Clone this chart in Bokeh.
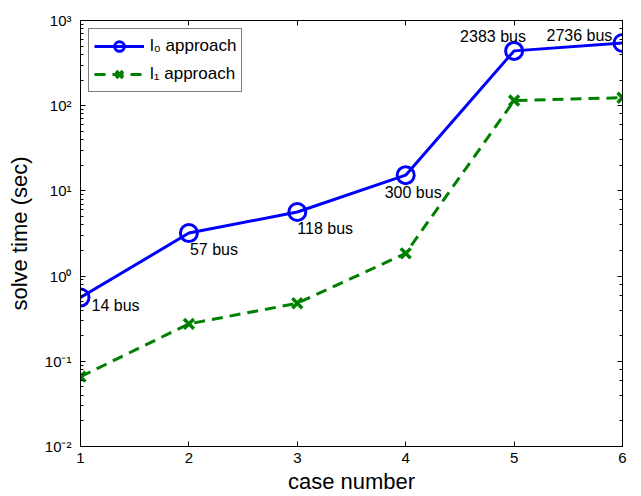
from bokeh.plotting import figure
from bokeh.models import (Range1d, LinearAxis, LogAxis, CustomJSTickFormatter,
                          FixedTicker, ColumnDataSource, Legend)
from bokeh.core.properties import value
from bokeh.embed import file_html
from bokeh.resources import INLINE

# ---- data ----
cases = [1, 2, 3, 4, 5, 6]
l0_time = [0.56, 3.2, 5.65, 15.3, 440, 545]
l1_time = [0.066, 0.275, 0.48, 1.85, 115, 124]
bus_labels = ["14 bus", "57 bus", "118 bus", "300 bus", "2383 bus", "2736 bus"]
x_ticks = [1, 2, 3, 4, 5, 6]
series_names = ["l\u2080 approach", "l\u2081 approach"]

# label offsets (pixels, style only)
lab_dx = [11, 1, 0, -21, -54, -76]
lab_dy = [8, 16, 16, 17, -14, -7]

FONT = "Liberation Sans"

p = figure(width=641, height=496, output_backend="svg", toolbar_location=None,
           y_axis_type="log", x_range=Range1d(1, 6), y_range=Range1d(0.01, 1000),
           min_border_left=80, min_border_right=19, min_border_top=20,
           min_border_bottom=48)
p.grid.visible = False
p.outline_line_color = "black"
p.outline_line_width = 1
p.background_fill_color = "white"
p.border_fill_color = "white"

sup = ("const m={'-':'\u207b','0':'\u2070','1':'\u00b9','2':'\u00b2','3':'\u00b3',"
       "'4':'\u2074','5':'\u2075','6':'\u2076','7':'\u2077','8':'\u2078','9':'\u2079'};"
       "const e=Math.round(Math.log10(tick));"
       "return '10'+String(e).split('').map(c=>m[c]).join('');")

def style_axis(ax):
    ax.axis_line_color = "black"
    ax.major_tick_line_color = "black"
    ax.minor_tick_line_color = "black"
    ax.major_tick_in = 5
    ax.major_tick_out = 0
    ax.minor_tick_in = 3
    ax.minor_tick_out = 0
    ax.major_label_text_font = FONT
    ax.major_label_text_font_size = "15px"
    ax.major_label_text_color = "black"
    ax.axis_label_text_font = FONT
    ax.axis_label_text_font_size = "22px"
    ax.axis_label_text_font_style = "normal"
    ax.axis_label_text_color = "black"

xa = p.xaxis[0]
style_axis(xa)
xa.ticker = FixedTicker(ticks=x_ticks)
xa.axis_label = "case number"
xa.major_label_standoff = 6
xa.axis_label_standoff = 3

ya = p.yaxis[0]
style_axis(ya)
ya.formatter = CustomJSTickFormatter(code=sup)
ya.axis_label = "solve time (sec)"
ya.major_label_standoff = 9
ya.axis_label_standoff = 10

blank = CustomJSTickFormatter(code="return ''")
top = LinearAxis(ticker=FixedTicker(ticks=x_ticks), formatter=blank)
style_axis(top)
top.major_label_standoff = 0
p.add_layout(top, "above")
right = LogAxis(formatter=blank)
style_axis(right)
right.major_label_standoff = 0
p.add_layout(right, "right")

src = ColumnDataSource(dict(x=cases, l0=l0_time, l1=l1_time, lab=bus_labels,
                            dx=lab_dx, dy=lab_dy))

r0l = p.line("x", "l0", source=src, line_color="#0000ff", line_width=3)
r0m = p.scatter("x", "l0", source=src, marker="circle", size=17,
                fill_color=None, line_color="#0000ff", line_width=3)
r1l = p.line("x", "l1", source=src, line_color="#008000", line_width=3,
             line_dash="11 7")
r1m = p.scatter("x", "l1", source=src, marker="x", size=14,
                line_color="#008000", line_width=3.5)

p.text("x", "l0", text="lab", source=src, x_offset="dx", y_offset="dy",
       text_font=value(FONT), text_font_size="16px", text_color="black",
       text_align="left", text_baseline="middle")

legend = Legend(items=[(series_names[0], [r0l, r0m]), (series_names[1], [r1l, r1m])],
                location="top_left")
legend.margin = 8
legend.padding = 5
legend.spacing = 4
legend.glyph_width = 50
legend.glyph_height = 24
legend.label_height = 24
legend.label_standoff = 6
legend.label_text_font = FONT
legend.label_text_font_size = "17px"
legend.label_text_color = "black"
legend.border_line_color = "black"
legend.border_line_width = 1
legend.background_fill_color = "white"
legend.background_fill_alpha = 1
p.add_layout(legend)

open("out.html", "w").write(file_html(p, INLINE))
